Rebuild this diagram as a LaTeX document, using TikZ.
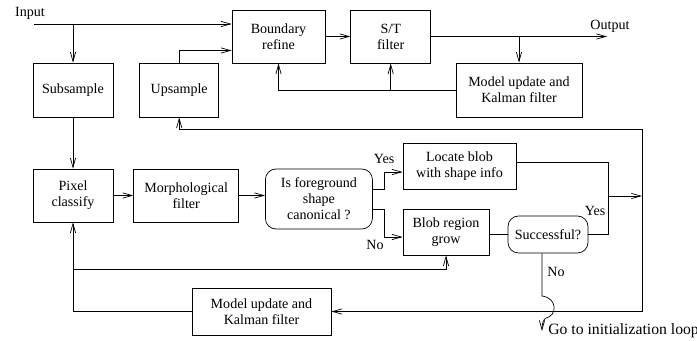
\documentclass[tikz,border=0pt]{standalone}
\usepackage{fontspec}
\setmainfont{Liberation Serif}
\usepackage{tikz}
\usetikzlibrary{positioning, calc, arrows.meta}

\begin{document}
\begin{tikzpicture}[
    x=0.03cm, y=-0.03cm,
    font=\fontsize{12}{13.6}\selectfont,
    line width=0.6pt,
    block/.style={draw, rectangle, align=center, inner sep=2pt},
    decision/.style={draw, rectangle, rounded corners=9pt, align=center, inner sep=2pt},
    flow/.style={-{Straight Barb[length=8pt, width=4.5pt]}}
  ]
  \useasboundingbox (0,0) rectangle (697,341);

  % Top row: resampling, refinement and output filter
  \node[block, minimum width=2.4cm, minimum height=1.62cm] (sub) at (73,90) {Subsample};
  \node[block, minimum width=2.37cm, minimum height=1.62cm, right=0.78cm of sub] (up) {Upsample};
  \node[block, minimum width=2.79cm, minimum height=1.59cm] (bnd) at (278.5,36.5) {Boundary\\refine};
  \node[block, minimum width=2.4cm, minimum height=1.59cm, right=0.75cm of bnd] (st) {S/T\\filter};
  \node[block, minimum width=3.78cm, minimum height=1.62cm] (mdl) at (519,90) {Model update and\\Kalman filter};

  % Middle row: classification and blob search
  \node[block, minimum width=2.4cm, minimum height=1.59cm] (pix) at (73,195.5) {Pixel\\classify};
  \node[block, minimum width=3.15cm, minimum height=1.59cm, right=0.6cm of pix] (morph) {Morphological\\filter};
  \node[decision, minimum width=3.21cm, minimum height=1.8cm, right=0.78cm of morph.north east, anchor=north west] (dec) {Is foreground\\shape\\canonical ?};
  \node[block, minimum width=3.39cm, minimum height=1.38cm] (loc) at (459.5,166) {Locate blob\\with shape info};
  \node[block, minimum width=2.58cm, minimum height=1.38cm] (blob) at (446,232) {Blob region\\grow};
  \node[decision, minimum width=2.4cm, minimum height=1.11cm] (succ) at (548,234.5) {Successful?};

  % Bottom: model update for the classifier
  \node[block, minimum width=4.17cm, minimum height=1.41cm] (mdl2) at (261.5,311.5) {Model update and\\Kalman filter};

  % Texts and loose ends
  \node (inp) at (30,13) {Input};
  \node (outt) at (610,26) {Output};
  \node (yes1) at (384,159) {Yes};
  \node (no1) at (375,245) {No};
  \node (yes2) at (595,211) {Yes};
  \node (no2) at (556,272) {No};
  \node[anchor=west, inner sep=0pt, font=\fontsize{13.4}{15}\selectfont] (goinit) at (548,331) {Go to initialization loop};
  \coordinate (in0) at (34,24);
  \coordinate (outp) at (607,36.5);
  \coordinate (jn) at (608,196);
  \coordinate (ne) at (642,129);
  \coordinate (golp) at (542,331);

  % Top connectors
  \draw[flow] (in0) -- (in0 -| bnd.west);
  \draw[flow] (in0 -| sub) -- (sub.north);
  \draw[flow] (up.north) |- ($(bnd.west)+(0,14)$);
  \draw[flow] (bnd) -- (st);
  \draw[flow] (st) -- (outp);
  \draw[flow] (st.east -| mdl) -- (mdl.north);
  \draw[flow] (mdl.west) -| (bnd.south);
  \draw[flow] (mdl.west -| st) -- (st.south);

  % Middle connectors
  \draw[flow] (sub) -- (pix);
  \draw[flow] (pix) -- (morph);
  \draw[flow] (morph.east) -- (morph.east -| dec.west);
  \draw[flow] ($(dec.east)+(0,-10)$) -- ++(12,0) |- ($(loc.west)+(0,6)$);
  \draw[flow] ($(dec.east)+(0,10)$) -- ++(12,0) |- ($(blob.west)+(0,5)$);
  \draw (succ.west -| blob.east) -- (succ.west);
  \draw ($(loc.east)+(0,-4)$) -| (jn);
  \draw (succ.east) -| (jn);
  \draw[flow] (jn) -- (jn -| ne);

  % Feedback loops
  \draw[flow] (ne) -| (up.south);
  \draw[flow] (ne) |- (mdl2.east);
  \draw[flow] (mdl2.west) -| (pix.south);
  \draw[flow] (pix.south |- 0,269) -| (blob.south);
  % "No" exit hops over the feedback line
  \draw[flow] ($(succ.south)+(-6,0)$) -- (542,296) .. controls (558,298) and (557,316) .. (546,318) .. controls (543,320) and (542,324) .. (golp);
\end{tikzpicture}
\end{document}
